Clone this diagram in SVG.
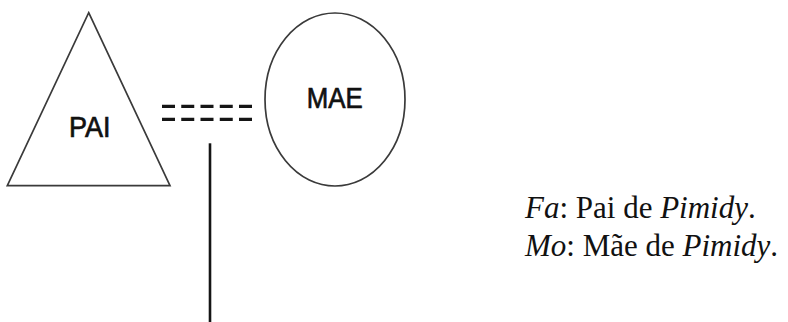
<svg xmlns="http://www.w3.org/2000/svg" width="788" height="322" viewBox="0 0 788 322">
  <style>
    .shape { fill: #fff; stroke: #3a3a3a; stroke-width: 1.7; }
    .label { font-family: "Liberation Sans", Arial, sans-serif; fill: #111; stroke: #111; stroke-width: 0.7; text-anchor: middle; }
    .legend { font-family: "Liberation Serif", "Times New Roman", serif; font-size: 31px; fill: #111; }
    .legend .it { font-style: italic; }
    .link { stroke: #151515; fill: none; }
  </style>
  <rect width="788" height="322" fill="#fff"/>

  <!-- father -->
  <g id="pai">
    <polygon class="shape" points="88.7,12.7 170,185.7 7.3,185.7"/>
    <text class="label" font-size="30" transform="translate(89.7,136.7) scale(0.9,1)">PAI</text>
  </g>

  <!-- mother -->
  <g id="mae">
    <ellipse class="shape" cx="335" cy="99.5" rx="70" ry="86.5"/>
    <text class="label" font-size="29" transform="translate(334.7,107.7) scale(0.89,1)">MAE</text>
  </g>

  <!-- marriage link and descent line -->
  <g id="connectors">
    <line class="link" x1="162" y1="106.3" x2="252" y2="106.3" stroke-width="3.2" stroke-dasharray="13 6.25"/>
    <line class="link" x1="162" y1="119.3" x2="252" y2="119.3" stroke-width="3.2" stroke-dasharray="13 6.25"/>
    <line class="link" x1="210" y1="143.3" x2="210" y2="322" stroke-width="2.6"/>
  </g>

  <!-- legend -->
  <g id="legend">
    <text class="legend" x="525" y="218"><tspan class="it">Fa</tspan>: Pai de <tspan class="it">Pimidy</tspan>.</text>
    <text class="legend" x="525" y="256"><tspan class="it">Mo</tspan>: Mãe de <tspan class="it">Pimidy</tspan>.</text>
  </g>
</svg>
